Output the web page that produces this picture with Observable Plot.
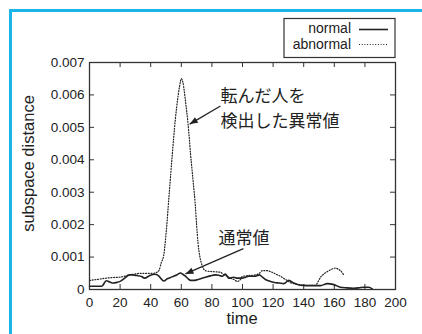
<!DOCTYPE html>
<html><head><meta charset="utf-8">
<script src="https://cdn.jsdelivr.net/npm/d3@7"></script>
<script src="https://cdn.jsdelivr.net/npm/@observablehq/plot@0.6"></script>
<style>body{margin:0;background:#fff;overflow:hidden;}</style>
</head><body><div id="chart"></div>
<script>
// ---- data ----
const normalTime = [0, 4, 8, 11, 13.3, 15.5, 18, 20, 23, 26, 28, 31, 34, 36, 39.4, 42.7, 45, 47, 48.5, 50.8, 53, 55, 57, 59.5, 61, 62.7, 64.5, 66, 68, 70.4, 73, 75.8, 79, 82.4, 84.5, 86.7, 88.9, 91, 94.3, 96.5, 99.8, 102, 104, 108.5, 111, 113, 115, 117, 119.4, 121.5, 123.7, 127, 130.3, 133.5, 137.9, 141, 144.4, 148, 151, 155.4, 159.7, 164, 168, 172.7, 176, 179.3, 182.5, 184.8];
const normalValue = [0.0001, 0.0001, 0.0001, 0.00027, 0.00023, 0.0002, 0.00022, 0.00025, 0.00035, 0.00045, 0.00045, 0.00043, 0.0004, 0.00035, 0.00043, 0.00047, 0.00043, 0.00032, 0.00026, 0.00033, 0.00037, 0.00041, 0.00045, 0.00051, 0.00047, 0.00041, 0.00033, 0.00028, 0.00028, 0.0003, 0.00034, 0.00038, 0.00042, 0.00045, 0.00044, 0.00041, 0.00048, 0.00035, 0.00038, 0.00035, 0.00035, 0.00038, 0.00041, 0.00041, 0.00045, 0.00038, 0.00031, 0.00027, 0.00023, 0.00021, 0.0002, 0.00018, 0.00028, 0.0002, 0.00013, 0.00012, 0.00012, 0.00012, 0.00012, 0.00018, 0.00015, 0.00007, 0.00005, 0.00004, 0.00005, 0.00007, 0.00007, 0.00002];
const abnormalTime = [0, 5, 11, 16, 20, 23, 26, 30, 33, 37, 41.6, 44, 45.5, 47, 48.5, 50, 52, 54, 56, 58, 59, 60, 61, 62, 63, 64, 65, 66, 67, 68, 69, 70, 71, 72, 73.6, 75.8, 78, 81, 85.6, 87.8, 90, 92, 94.3, 96.5, 98.7, 99.8, 104, 108.5, 111, 112.9, 116, 119.4, 122, 124.8, 127, 129.2, 131, 133.5, 139, 143, 147.7, 149.5, 151, 153, 155.4, 158, 160.8, 162.5, 164, 166.2];
const abnormalValue = [0.00028, 0.00031, 0.00035, 0.00037, 0.00038, 0.00041, 0.00045, 0.00048, 0.0005, 0.0005, 0.0005, 0.00053, 0.0006, 0.00084, 0.00105, 0.0017, 0.0029, 0.0041, 0.0052, 0.006, 0.0063, 0.0065, 0.0064, 0.0061, 0.0057, 0.0053, 0.0048, 0.0042, 0.0037, 0.0032, 0.0027, 0.002, 0.0014, 0.00105, 0.00074, 0.00058, 0.00056, 0.00055, 0.00053, 0.00045, 0.00041, 0.00035, 0.00031, 0.00025, 0.00031, 0.0004, 0.00043, 0.00045, 0.0005, 0.00058, 0.00058, 0.00053, 0.00047, 0.00041, 0.00034, 0.00028, 0.00022, 0.00018, 0.00014, 0.00013, 0.00013, 0.00025, 0.00038, 0.00047, 0.00055, 0.00062, 0.00066, 0.00063, 0.00058, 0.00045];
const seriesNames = ["normal", "abnormal"];
const xTicks = [0, 20, 40, 60, 80, 100, 120, 140, 160, 180, 200];
const yTicks = [0, 0.001, 0.002, 0.003, 0.004, 0.005, 0.006, 0.007];
const xLabel = "time";
const yLabel = "subspace distance";
const annText = ["転んだ人を\n検出した異常値", "通常値"];
const annX = [85.6, 84.3];
const annY = [0.00564, 0.00166];
const arrowX1 = [85.6, 100.6];
const arrowY1 = [0.00566, 0.00126];
const arrowX2 = [65.5, 62.7];
const arrowY2 = [0.0051, 0.00048];

// ---- layout ----
const W = 422, H = 334, mL = 89, mR = 27, mT = 62, mB = 45;
const innerH = H - mT - mB, innerW = W - mL - mR;
const ink = "#222";
const dots = "1,1.7";

const normal = normalTime.map((t, i) => ({t, v: normalValue[i]}));
const abnormal = abnormalTime.map((t, i) => ({t, v: abnormalValue[i]}));
const ann = annText.map((s, i) => ({s, x: annX[i], y: annY[i]}));
const arrows = arrowX1.map((x1, i) => ({x1, y1: arrowY1[i], x2: arrowX2[i], y2: arrowY2[i]}));

const plot = Plot.plot({
  width: W, height: H,
  marginLeft: mL, marginRight: mR, marginTop: mT, marginBottom: mB,
  style: {fontFamily: "'Liberation Sans', Arial, sans-serif", fontSize: "13.5px", color: ink, background: "transparent", overflow: "visible"},
  x: {domain: [0, 200], ticks: xTicks, tickSize: 0, tickPadding: 8, label: null},
  y: {domain: [0, 0.007], ticks: yTicks, tickSize: 0, tickPadding: 5, label: null,
      tickFormat: d => d === 0 ? "0" : d3.format(".3f")(d)},
  marks: [
    Plot.tickX(xTicks, {x: d => d, insetTop: innerH - 5, stroke: "#333"}),
    Plot.tickX(xTicks, {x: d => d, insetBottom: innerH - 5, stroke: "#333"}),
    Plot.tickY(yTicks, {y: d => d, insetRight: innerW - 5, stroke: "#333"}),
    Plot.tickY(yTicks, {y: d => d, insetLeft: innerW - 5, stroke: "#333"}),
    Plot.line(abnormal, {x: "t", y: "v", stroke: ink, strokeWidth: 1.2, strokeDasharray: dots, curve: "monotone-x"}),
    Plot.line(normal, {x: "t", y: "v", stroke: ink, strokeWidth: 1.6, curve: "monotone-x"}),
    Plot.frame({stroke: "#333", strokeWidth: 1.3}),
    Plot.link(arrows, {x1: "x1", y1: "y1", x2: "x2", y2: "y2", stroke: ink, strokeWidth: 1.3}),
    Plot.text(ann, {x: "x", y: "y", text: "s", textAnchor: "start", lineAnchor: "middle", lineHeight: 1.45,
      fontSize: 17, fontFamily: "'Noto Sans CJK JP', sans-serif", fill: ink})
  ]
});
document.getElementById("chart").appendChild(plot);

// ---- decorations: arrowheads, border, legend, axis labels ----
const svg = d3.select(plot);
const defs = svg.append("defs");
defs.append("marker").attr("id", "ah").attr("viewBox", "0 -5 10 10").attr("refX", 10).attr("refY", 0)
  .attr("markerWidth", 10).attr("markerHeight", 8).attr("markerUnits", "userSpaceOnUse").attr("orient", "auto")
  .append("path").attr("d", "M0,-4L10,0L0,4Z").attr("fill", ink);
svg.selectAll("g[aria-label=link] path").attr("marker-end", "url(#ah)");

svg.append("path").attr("d", `M10.5,${H} V10.5 H${W}`).attr("fill", "none")
  .attr("stroke", "#1cb5ea").attr("stroke-width", 3);

const lg = svg.append("g").attr("font-family", "'Liberation Sans', Arial, sans-serif").attr("font-size", 14).attr("fill", ink);
lg.append("rect").attr("x", 284).attr("y", 18.5).attr("width", 111).attr("height", 39)
  .attr("fill", "#fff").attr("stroke", "#333").attr("stroke-width", 1.2);
seriesNames.forEach((name, i) => {
  lg.append("text").attr("text-anchor", "end").attr("x", 351).attr("y", i === 0 ? 33.2 : 49.4).text(name);
  const cy = i === 0 ? 29.5 : 44.5;
  lg.append("line").attr("x1", 359).attr("x2", 388).attr("y1", cy).attr("y2", cy)
    .attr("stroke", ink).attr("stroke-width", i === 0 ? 1.6 : 1.2)
    .attr("stroke-dasharray", i === 0 ? null : dots);
});

svg.append("text").attr("x", (mL + W - mR) / 2).attr("y", 324).attr("text-anchor", "middle")
  .attr("font-family", "'Liberation Sans', Arial, sans-serif").attr("font-size", 16.5).attr("fill", ink).text(xLabel);
svg.append("text").attr("transform", "translate(34,163.5) rotate(-90)").attr("text-anchor", "middle")
  .attr("font-family", "'Liberation Sans', Arial, sans-serif").attr("font-size", 16.5).attr("fill", ink).text(yLabel);
</script>
</body></html>
